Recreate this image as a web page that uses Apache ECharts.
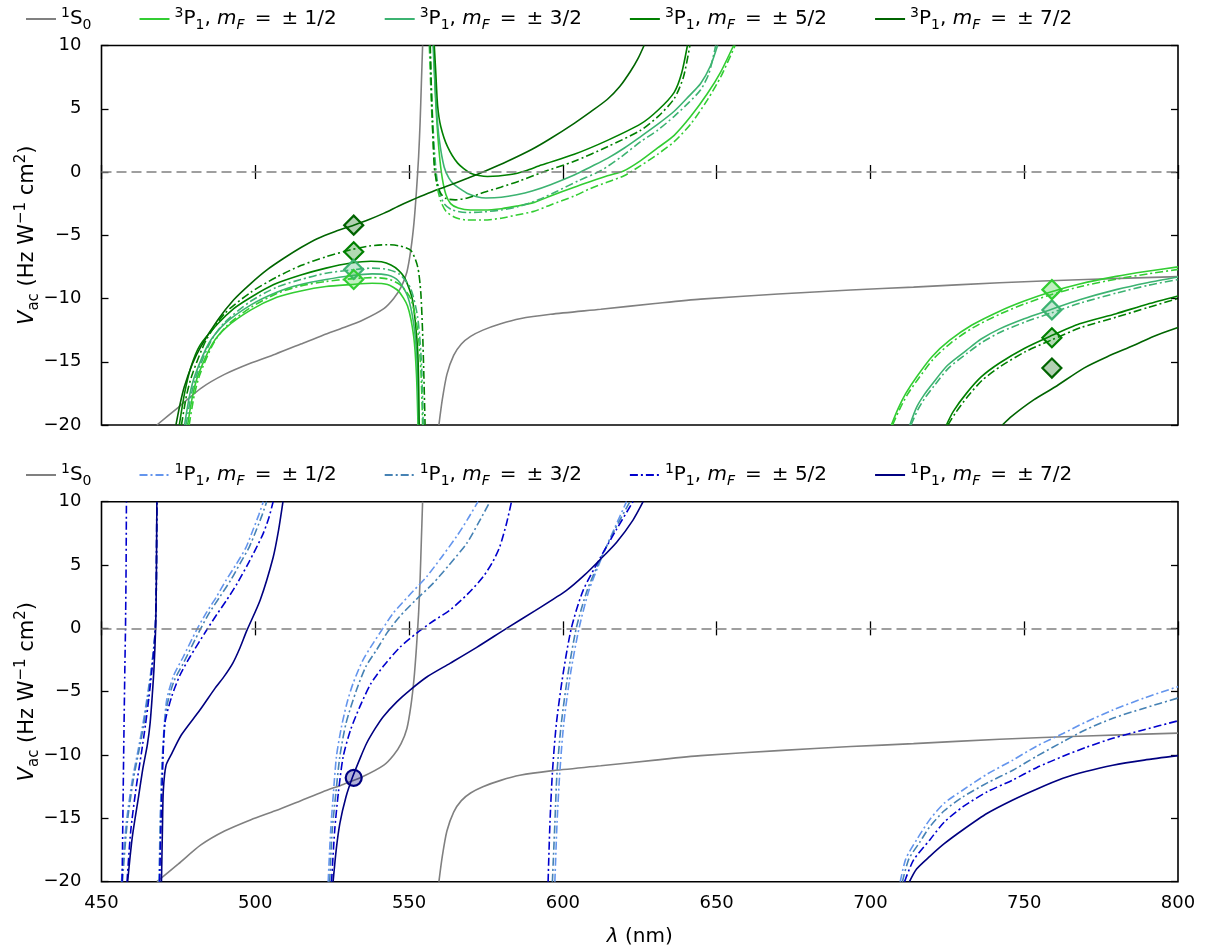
<!DOCTYPE html>
<html><head><meta charset="utf-8">
<script src="https://cdn.jsdelivr.net/npm/echarts@6/dist/echarts.min.js"></script>
<style>html,body{margin:0;padding:0;background:#fff}#c{width:1217px;height:952px}</style>
</head><body><div id="c"></div><script>
// ---------- tick labels ----------
const xTicks = [450, 500, 550, 600, 650, 700, 750, 800];
const yTicks = [-20, -15, -10, -5, 0, 5, 10];

// ---------- 1S0 (both panels) ----------
const gray_L = [[468,-20],[475,-18.6],[482.3,-17.1],[490,-16.0],[498.6,-15.1],[506.5,-14.4],[514.8,-13.6],[522,-12.9],[528.8,-12.3],[535,-11.7],[541.8,-10.8],[545,-10.0],[547.4,-9.1],[549.3,-7.9],[550.6,-6.1],[551.6,-4.0],[552.4,-1.5],[553.1,1.2],[553.6,4.0],[554.0,7.0],[554.4,10]];
const gray_R = [[559.7,-20],[560.8,-18.0],[562.3,-16.0],[564.5,-14.5],[567,-13.6],[570,-13.0],[574,-12.5],[579.8,-12.0],[586,-11.6],[596,-11.25],[612.3,-10.85],[630,-10.4],[644.8,-10.05],[670,-9.65],[693.6,-9.33],[714,-9.1],[742,-8.75],[770,-8.5],[800,-8.27]];

// ---------- 3P1 (top panel) ----------
const p72_L = [[474.2,-20],[475.5,-18.4],[476.9,-17.0],[479.5,-15.2],[482.3,-13.8],[487.8,-11.7],[493,-10.1],[498.6,-8.8],[504,-7.7],[509.4,-6.8],[515,-5.95],[520.3,-5.25],[526,-4.7],[532,-4.2],[537,-3.75],[541.9,-3.25],[546.5,-2.7],[550.6,-2.25],[556,-1.7],[562,-1.15],[569,-0.5],[575,0.1],[582,0.85],[590,1.8],[596,2.65],[603.7,3.85],[609,4.75],[614.5,5.75],[618.5,6.75],[622.1,8.0],[624.5,9.0],[626.4,10]];
const p72_R = [[742.9,-20],[746,-19.3],[753.2,-18.0],[760,-17.0],[769.4,-15.5],[777,-14.6],[785.7,-13.7],[792,-13.0],[800,-12.3]];

const p52s_L = [[475.3,-20],[477,-17.5],[479.1,-15.4],[482,-13.7],[487.8,-12.0],[493,-10.8],[498.6,-9.9],[506,-8.9],[514.8,-8.15],[523,-7.6],[531.1,-7.2],[537.6,-7.05],[541,-7.1],[544.1,-7.35],[546.5,-7.75],[548.4,-8.3],[550,-9.2],[551.1,-10.1],[552.1,-12],[552.8,-14.1],[553.1,-16.5],[553.3,-20]];
const p52s_M = [[558.2,10],[558.7,7.8],[559.3,5.2],[560.3,3.6],[562.5,2.0],[565.8,0.7],[570,-0.1],[575.5,-0.35],[583,-0.2],[588,0.1],[593,0.55],[603.7,1.4],[614.5,2.5],[625.3,3.8],[631,4.9],[636.2,6.3],[638.6,7.8],[640.5,10]];
const p52s_R = [[724.7,-20],[727,-18.9],[731.2,-17.5],[736,-16.2],[742,-15.1],[750,-13.95],[758.3,-13.0],[768,-12.0],[779.9,-11.2],[790,-10.45],[800,-9.8]];
const p52d_L = [[476,-20],[477.7,-17.6],[479.5,-16],[484,-13.3],[490,-11.2],[498.6,-9.5],[507,-8.3],[514.8,-7.4],[523,-6.7],[531,-6.15],[537,-5.85],[543,-5.75],[547,-5.85],[550.6,-6.2],[552.8,-7.5],[553.8,-9.5],[554.4,-12.7],[554.8,-16],[555.2,-20]];
const p52d_M = [[556.9,10],[557.2,7],[557.6,4],[558.2,0.4],[559,-0.8],[560.3,-1.7],[562,-2.1],[565,-2.2],[569,-2.05],[574.4,-1.6],[579.8,-1.2],[586,-0.7],[593,-0.05],[603.7,0.85],[614.5,2.0],[625.3,3.3],[631,4.4],[636.2,5.8],[639.2,7.5],[641.3,10]];
const p52d_R = [[725.2,-20],[727.5,-19.1],[731.6,-17.75],[736.4,-16.45],[742.4,-15.35],[750.4,-14.2],[758.7,-13.3],[768.4,-12.3],[780.3,-11.45],[790.4,-10.7],[800,-10.0]];

const p32s_L = [[477,-20],[478.7,-17.6],[480.5,-16],[485,-13.5],[490,-12],[498.6,-10.5],[507,-9.5],[514.8,-8.9],[523,-8.5],[531,-8.2],[538,-8.05],[543,-8.15],[546.5,-8.6],[549.5,-9.8],[551.5,-12],[552.6,-15],[553.1,-20]];
const p32s_M = [[557.8,10],[558.3,7.5],[558.9,5],[559.8,2.6],[561.4,0.4],[563,-0.5],[564.7,-1.0],[567,-1.4],[569,-1.7],[572,-1.95],[575,-2.05],[580,-2.0],[585,-1.8],[590,-1.5],[596,-1.0],[603.7,-0.24],[609,0.4],[614.5,1.08],[620,1.9],[625.3,2.8],[631,3.8],[636.2,4.8],[641,6],[644.8,7.0],[648,8.4],[650.3,10]];
const p32s_R = [[712.8,-20],[715,-18.6],[717.5,-17.6],[720.3,-16.7],[725,-15.3],[731.2,-14.1],[736,-13.2],[742,-12.4],[750,-11.6],[758.3,-10.9],[768,-10.1],[779.9,-9.3],[790,-8.75],[800,-8.3]];
const p32d_L = [[477.5,-20],[479.2,-17.6],[481,-16],[485.5,-13.4],[490,-11.9],[498.6,-10.2],[507,-9.1],[514.8,-8.5],[523,-8.0],[531,-7.75],[538,-7.6],[543,-7.7],[547,-8.1],[550.5,-9.2],[552.8,-11.5],[554,-15],[554.6,-20]];
const p32d_M = [[556.8,10],[557.2,7],[557.7,4],[558.3,1.5],[559,-0.4],[560,-1.7],[561.4,-2.5],[564,-3.0],[569,-3.2],[574.4,-3.15],[580,-3.0],[585.3,-2.75],[592,-2.2],[598.3,-1.5],[605,-0.7],[612.3,0.1],[619,1.2],[625.3,2.4],[630.8,3.3],[636.2,4.4],[641,5.5],[644.8,6.5],[647.5,7.8],[649.7,10]];
const p32d_R = [[713.2,-20],[715.4,-18.8],[717.9,-17.8],[720.7,-16.9],[725.4,-15.5],[731.6,-14.3],[736.4,-13.45],[742.4,-12.65],[750.4,-11.85],[758.7,-11.15],[768.4,-10.35],[780.3,-9.55],[790.4,-8.95],[800,-8.5]];

const p12s_L = [[478,-20],[479.7,-17.6],[481.5,-16],[486,-13.6],[490.5,-12.3],[498.6,-10.9],[507,-9.9],[514.8,-9.4],[523,-9.05],[531,-8.9],[538,-8.8],[543,-8.9],[546.5,-9.4],[549.5,-10.6],[551.5,-13],[552.4,-16],[552.9,-20]];
const p12s_M = [[558,10],[558.4,7],[558.9,4.5],[559.8,1.5],[560.8,-0.5],[562,-1.8],[563.5,-2.5],[566,-2.85],[570,-3.0],[574.4,-3.0],[580,-2.9],[585,-2.7],[590.7,-2.4],[596,-1.9],[603.7,-1.2],[609,-0.75],[614.5,-0.3],[619.9,0.1],[625.3,0.9],[630.8,1.9],[636.2,2.9],[641.6,4.4],[647,6.2],[651.3,7.9],[655.5,10]];
const p12s_R = [[706.8,-20],[709,-18.7],[711.5,-17.5],[715,-16.2],[720,-14.6],[725.8,-13.3],[733,-12.1],[742,-11.0],[750,-10.2],[758.3,-9.5],[768,-8.85],[779.9,-8.25],[790,-7.85],[800,-7.5]];
const p12d_L = [[478.5,-20],[480.2,-17.6],[482,-16],[486.5,-13.5],[491,-12.1],[498.6,-10.7],[507,-9.6],[514.8,-9.0],[523,-8.65],[531,-8.45],[538,-8.35],[543,-8.45],[547,-8.9],[550.5,-10],[552.8,-12.5],[553.9,-16],[554.4,-20]];
const p12d_M = [[556.6,10],[557,7],[557.5,4],[558.2,1],[559,-1],[560.3,-2.3],[562,-3.1],[565,-3.6],[569,-3.8],[574.4,-3.8],[580,-3.65],[585,-3.4],[590.7,-3.1],[596,-2.6],[603.7,-1.9],[609,-1.3],[614.5,-0.8],[619.9,-0.3],[625.3,0.5],[630.8,1.4],[636.2,2.4],[641.6,3.8],[647,5.7],[651.5,7.6],[656,10]];
const p12d_R = [[707.2,-20],[709.4,-18.8],[712,-17.6],[715.4,-16.4],[720.4,-14.8],[726.2,-13.5],[733.4,-12.3],[742.4,-11.2],[750.4,-10.4],[758.7,-9.7],[768.4,-9.05],[780.3,-8.45],[790.4,-8.05],[800,-7.7]];

// markers (top panel): wavelengths and values per mF
const markLam = [532, 759];
const mk72 = [-4.2, -15.5];
const mk52 = [-6.3, -13.1];
const mk32 = [-7.7, -10.9];
const mk12 = [-8.5, -9.3];

// ---------- 1P1 (bottom panel) ----------
const q52_B0 = [[456.7,-20],[457.2,-10],[457.6,-3],[457.8,0],[458.0,5],[458.1,10]];
const q12_B1 = [[456.5,-20],[458,-15.5],[460,-12],[462,-9.5],[463.5,-7.5],[464.8,-5.5],[466,-3.5],[467,-1.5],[467.5,0],[467.8,3],[467.9,6],[468,10]];
const q32_B1 = [[456.8,-20],[458.3,-15.5],[460.3,-12],[462.3,-9.5],[463.8,-7.5],[465,-5.5],[466.1,-3.5],[467,-1.5],[467.5,0],[467.8,3],[467.9,6],[468,10]];
const q52_B1 = [[458.3,-20],[459.5,-16],[461.3,-12.5],[463,-9.8],[464.3,-7.6],[465.4,-5.5],[466.3,-3.5],[467.1,-1.5],[467.5,0],[467.8,3],[467.9,6],[468,10]];
const q72_B1 = [[458.5,-20],[460,-16.5],[462.1,-13.2],[463.5,-11],[464.9,-9.2],[465.8,-7.5],[466.5,-5.3],[467.1,-3],[467.6,0],[467.8,3],[467.9,6],[468.0,10]];

const q12_B2 = [[468.7,-20],[469.1,-15],[469.6,-11],[470.3,-8],[471.2,-5.65],[473.5,-3.7],[476.6,-2.24],[480.9,-0.13],[484,1.2],[487.4,2.5],[490.5,3.8],[493.9,5.1],[497,6.4],[499.3,7.8],[501.2,9],[502.6,10]];
const q32_B2 = [[468.8,-20],[469.2,-15],[469.7,-11],[470.4,-8.3],[471.2,-6.2],[473.5,-4.2],[476.6,-2.76],[482,-0.13],[485,1.2],[488.5,2.5],[492,3.8],[495,5.1],[498,6.4],[500.4,7.8],[502.3,9],[503.7,10]];
const q52_B2 = [[468.9,-20],[469.4,-15],[469.9,-11],[470.6,-7.5],[472.8,-5.4],[475.5,-3.7],[478.8,-2.24],[484.2,-0.13],[487.5,1.1],[490.7,2.24],[494,3.5],[497.2,4.9],[500,6.2],[502.6,7.5],[504.5,8.8],[505.8,10]];
const q72_B2 = [[469.5,-20],[469.8,-16],[470.1,-12.8],[471,-10.8],[472.8,-9.9],[476,-8.4],[482,-6.45],[487,-4.7],[490,-3.75],[492.7,-2.74],[495,-1.55],[497.2,-0.2],[501.6,2.24],[505.8,5.6],[507.6,7.8],[509,10]];

const q12_B3 = [[523.7,-20],[524.5,-16],[525.4,-13],[526.4,-10.1],[528,-7.8],[529.8,-5.9],[531.8,-4.34],[535,-2.5],[538.3,-1.18],[541.5,0],[544.8,1.19],[550,2.6],[555.7,4.08],[560.5,5.6],[565.4,7.24],[569,8.6],[572.4,10]];
const q32_B3 = [[524.2,-20],[525,-16],[526.2,-13],[527.5,-10.1],[529.5,-7.5],[532.9,-4.87],[536,-3.0],[539.4,-1.71],[543,-0.3],[546.9,0.92],[552,2.2],[557.8,3.55],[563,5.0],[568.7,6.7],[572.5,8.3],[576.3,10]];
const q52_B3 = [[524.8,-20],[525.8,-16],[527,-13],[528.6,-10.1],[531,-8],[534,-6.18],[537.5,-4.4],[541.6,-3.0],[547,-1.5],[552.4,-0.39],[558,0.6],[563.3,1.45],[569,2.7],[574.1,4.08],[577.3,5.3],[579.5,6.45],[581.7,8.3],[583.3,10]];
const q72_B3 = [[525.3,-20],[526.3,-17.5],[527.5,-15.4],[529.5,-13.3],[531.6,-11.76],[534,-10.3],[536.2,-9.07],[539,-7.9],[541.6,-6.97],[546,-5.8],[550.3,-4.87],[556,-3.8],[563.3,-2.76],[572,-1.5],[581.7,0],[591,1.4],[601.2,3.0],[607,4.2],[612,5.4],[617.5,6.8],[622.8,8.55],[626.1,10]];

const q12_B4 = [[597.4,-20],[598.1,-15.4],[599,-11.4],[600.3,-7.5],[602.5,-3.55],[605.3,0.05],[608.5,3.0],[612.5,5.5],[616.6,7.8],[620.7,10]];
const q32_B4 = [[596.6,-20],[597.4,-15.4],[598.1,-11.4],[599.5,-7.5],[601.7,-3.55],[604.4,0.05],[607.9,3.0],[612.3,5.5],[616.9,7.8],[621.8,10]];
const q52_B4 = [[595.2,-20],[595.8,-15.4],[596.6,-11.4],[597.9,-7.5],[600.1,-3.55],[602.8,0.05],[606.6,3.0],[612,5.5],[617.4,7.8],[622.8,10]];

const q12_B5 = [[709.7,-20],[711.5,-18.2],[715,-16.7],[719.3,-15.1],[724,-13.8],[730.1,-12.76],[738,-11.5],[746.3,-10.4],[754,-9.3],[762.6,-8.3],[770,-7.4],[778.8,-6.45],[789,-5.5],[800,-4.6]];
const q32_B5 = [[710.4,-20],[712.5,-18.2],[716,-16.9],[719.3,-15.66],[724,-14.4],[730.1,-13.3],[738,-12.2],[746.3,-11.2],[754,-10.1],[762.6,-8.95],[770,-8.0],[778.8,-7.1],[789,-6.3],[800,-5.5]];
const q52_B5 = [[711.1,-20],[714,-18.3],[719.3,-16.7],[724,-15.3],[730.1,-14.08],[738,-12.9],[746.3,-11.97],[754,-11.0],[762.6,-10.1],[770,-9.4],[778.8,-8.68],[789,-8.0],[800,-7.3]];
const q72_B5 = [[712.7,-20],[715,-19],[719.3,-18.0],[724,-17],[730.1,-15.9],[738,-14.6],[746.3,-13.55],[754,-12.7],[762.6,-11.84],[770,-11.3],[778.8,-10.8],[789,-10.4],[800,-10.05]];

const mk1P1 = [[532, -11.8]];

// ---------- styling ----------
const FONT = 'DejaVu Sans';
const DD = [8, 3, 2, 3];
const C = {
  gray: '#808080',
  g12: '#32cd32', g32: '#3cb371', g52: '#008000', g72: '#006400',
  b12: '#6495ed', b32: '#4682b4', b52: '#0000cd', b72: '#000080'
};

function ln(panel, name, data, color, dashed, z) {
  return {
    type: 'line', name: name, data: data,
    xAxisIndex: panel * 2, yAxisIndex: panel * 2,
    symbol: 'none', showSymbol: false, clip: true,
    smooth: 0.25,
    lineStyle: { color: color, width: 1.6, type: dashed ? DD : 'solid' },
    itemStyle: { color: color },
    emphasis: { disabled: true }, silent: true,
    z: z || 2, animation: false
  };
}
const zeroLine = {
  silent: true, symbol: 'none', label: { show: false },
  lineStyle: { color: '#808080', type: [10, 5], width: 1.5 },
  data: [{ yAxis: 0 }]
};

function rgba(hex, a) {
  const n = parseInt(hex.slice(1), 16);
  return 'rgba(' + (n >> 16) + ',' + ((n >> 8) & 255) + ',' + (n & 255) + ',' + a + ')';
}
function mk(name, vals, color) {
  return {
    type: 'scatter', name: name, xAxisIndex: 0, yAxisIndex: 0,
    data: vals.map((v, i) => [markLam[i], v]),
    symbol: 'diamond', symbolSize: 19,
    itemStyle: { color: rgba(color, 0.3), borderColor: color, borderWidth: 2.2, opacity: 1 },
    emphasis: { disabled: true }, silent: true, z: 10, animation: false
  };
}

const series = [];
// top panel
const gt = ln(0, 'g_top', gray_L, C.gray, false, 1); gt.markLine = zeroLine; series.push(gt);
series.push(ln(0, 'g_top', gray_R, C.gray, false, 1));
series.push(ln(0, 't12', p12s_L, C.g12)); series.push(ln(0, 't12', p12s_M, C.g12)); series.push(ln(0, 't12', p12s_R, C.g12));
series.push(ln(0, 't32', p32s_L, C.g32)); series.push(ln(0, 't32', p32s_M, C.g32)); series.push(ln(0, 't32', p32s_R, C.g32));
series.push(ln(0, 't52', p52s_L, C.g52)); series.push(ln(0, 't52', p52s_M, C.g52)); series.push(ln(0, 't52', p52s_R, C.g52));
series.push(ln(0, 't72', p72_L, C.g72)); series.push(ln(0, 't72', p72_R, C.g72));
series.push(ln(0, 't12d', p12d_L, C.g12, true)); series.push(ln(0, 't12d', p12d_M, C.g12, true)); series.push(ln(0, 't12d', p12d_R, C.g12, true));
series.push(ln(0, 't32d', p32d_L, C.g32, true)); series.push(ln(0, 't32d', p32d_M, C.g32, true)); series.push(ln(0, 't32d', p32d_R, C.g32, true));
series.push(ln(0, 't52d', p52d_L, C.g52, true)); series.push(ln(0, 't52d', p52d_M, C.g52, true)); series.push(ln(0, 't52d', p52d_R, C.g52, true));
series.push(mk('m72', mk72, C.g72));
series.push(mk('m52', mk52, C.g52));
series.push(mk('m32', mk32, C.g32));
series.push(mk('m12', mk12, C.g12));
// bottom panel
const gb = ln(1, 'g_bot', gray_L, C.gray, false, 1); gb.markLine = zeroLine; series.push(gb);
series.push(ln(1, 'g_bot', gray_R, C.gray, false, 1));
[q12_B1, q12_B2, q12_B3, q12_B4, q12_B5].forEach(d => series.push(ln(1, 'b12', d, C.b12, true)));
[q32_B1, q32_B2, q32_B3, q32_B4, q32_B5].forEach(d => series.push(ln(1, 'b32', d, C.b32, true)));
[q52_B0, q52_B1, q52_B2, q52_B3, q52_B4, q52_B5].forEach(d => series.push(ln(1, 'b52', d, C.b52, true)));
[q72_B1, q72_B2, q72_B3, q72_B5].forEach(d => series.push(ln(1, 'b72', d, C.b72, false)));
series.push({
  type: 'scatter', name: 'c1', xAxisIndex: 2, yAxisIndex: 2, data: mk1P1,
  symbol: 'circle', symbolSize: 16,
  itemStyle: { color: rgba(C.b72, 0.3), borderColor: C.b72, borderWidth: 2.2, opacity: 1 },
  emphasis: { disabled: true }, silent: true, z: 10, animation: false
});

// ---------- axes ----------
const minus = v => (v < 0 ? '\u2212' + Math.abs(v) : String(v));
const TICK = { show: true, inside: true, length: 7, lineStyle: { color: '#000', width: 1.3 } };
function xAx(grid, pos, labels, name) {
  const a = {
    type: 'value', gridIndex: grid, position: pos,
    min: xTicks[0], max: xTicks[xTicks.length - 1], interval: xTicks[1] - xTicks[0],
    axisLine: { show: false }, axisTick: TICK, splitLine: { show: false },
    axisLabel: { show: labels, margin: 13, fontFamily: FONT, fontSize: 18, color: '#000' }
  };
  if (name) {
    a.name = '{it|\u03bb} (nm)';
    a.nameLocation = 'middle'; a.nameGap = 45; a.nameMoveOverlap = false;
    a.nameTextStyle = { fontFamily: FONT, fontSize: 20, color: '#000', rich: { it: { fontStyle: 'italic', fontFamily: FONT, fontSize: 20 } } };
  }
  return a;
}
const yName = '{it|V}{sub|ac} (Hz W{sup|\u22121} cm{sup|2})';
function yAx(grid, pos, labels) {
  const a = {
    type: 'value', gridIndex: grid, position: pos,
    min: yTicks[0], max: yTicks[yTicks.length - 1], interval: yTicks[1] - yTicks[0],
    axisLine: { show: false }, axisTick: TICK, splitLine: { show: false },
    axisLabel: { show: labels, margin: 20, fontFamily: FONT, fontSize: 18, color: '#000', formatter: minus }
  };
  if (labels) {
    a.name = yName; a.nameLocation = 'middle'; a.nameGap = 60; a.nameRotate = 90;
    a.nameMoveOverlap = false;
    a.nameTextStyle = {
      fontFamily: FONT, fontSize: 21, color: '#000', lineHeight: 28,
      rich: {
        it: { fontStyle: 'italic', fontFamily: FONT, fontSize: 21 },
        sub: { fontFamily: FONT, fontSize: 15, lineHeight: 14, verticalAlign: 'bottom' },
        sup: { fontFamily: FONT, fontSize: 15, lineHeight: 14, verticalAlign: 'top' }
      }
    };
  }
  return a;
}

// ---------- legends ----------
const SP = '\u2002';
function mf(state, frac) { return state + ', {it|m}{isub|F}' + SP + '=' + SP + '\u00b1 ' + frac; }
const LEG = {
  g_top: '{sup|1}S{sub|0}', g_bot: '{sup|1}S{sub|0}',
  t12: mf('{sup|3}P{sub|1}', '1/2'), t32: mf('{sup|3}P{sub|1}', '3/2'),
  t52: mf('{sup|3}P{sub|1}', '5/2'), t72: mf('{sup|3}P{sub|1}', '7/2'),
  b12: mf('{sup|1}P{sub|1}', '1/2'), b32: mf('{sup|1}P{sub|1}', '3/2'),
  b52: mf('{sup|1}P{sub|1}', '5/2'), b72: mf('{sup|1}P{sub|1}', '7/2')
};
const legText = {
  fontFamily: FONT, fontSize: 20, color: '#000', lineHeight: 26,
  rich: {
    sup: { fontFamily: FONT, fontSize: 14, lineHeight: 14, verticalAlign: 'top' },
    sub: { fontFamily: FONT, fontSize: 14, lineHeight: 14, verticalAlign: 'bottom' },
    it: { fontFamily: FONT, fontSize: 20, fontStyle: 'italic' },
    isub: { fontFamily: FONT, fontSize: 14, lineHeight: 14, verticalAlign: 'bottom', fontStyle: 'italic' }
  }
};
function legend(top, names) {
  return {
    top: top, left: 20, orient: 'horizontal', itemWidth: 30, itemHeight: 14, itemGap: 47,
    data: names, formatter: n => LEG[n], textStyle: legText, selectedMode: false,
    itemStyle: { opacity: 0 }
  };
}

const option = {
  animation: false, backgroundColor: '#fff',
  grid: [
    { left: 101.5, top: 45.5, width: 1076.5, height: 379.5, show: true, borderColor: '#000', borderWidth: 1.6, backgroundColor: 'transparent', outerBoundsMode: 'none' },
    { left: 101.5, top: 501.7, width: 1076.5, height: 380, show: true, borderColor: '#000', borderWidth: 1.6, backgroundColor: 'transparent', outerBoundsMode: 'none' }
  ],
  xAxis: [xAx(0, 'bottom', false), xAx(0, 'top', false), xAx(1, 'bottom', true, true), xAx(1, 'top', false)],
  yAxis: [yAx(0, 'left', true), yAx(0, 'right', false), yAx(1, 'left', true), yAx(1, 'right', false)],
  legend: [legend(1, ['g_top', 't12', 't32', 't52', 't72']), legend(457, ['g_bot', 'b12', 'b32', 'b52', 'b72'])],
  series: series
};
const chart = echarts.init(document.getElementById('c'), null, { renderer: 'canvas' });
chart.setOption(option);
</script></body></html>
